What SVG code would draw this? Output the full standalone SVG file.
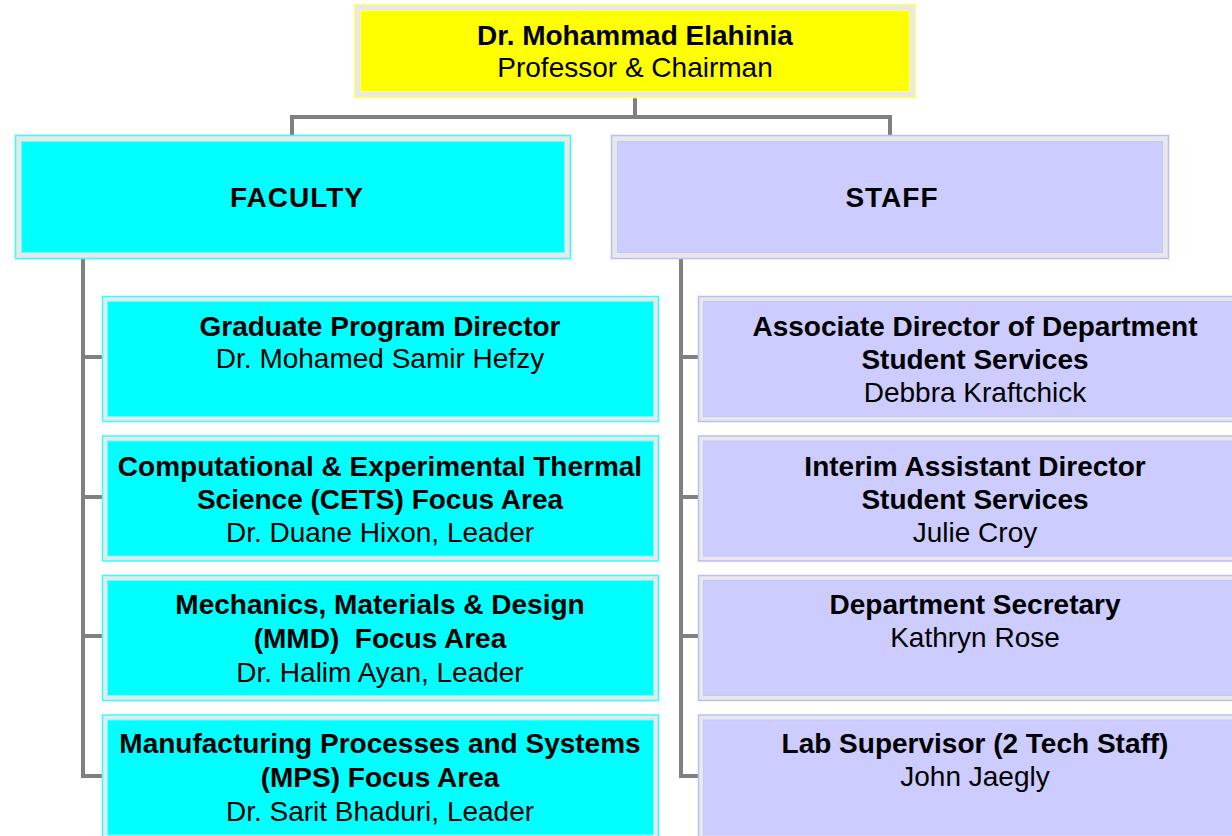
<svg xmlns="http://www.w3.org/2000/svg" width="1232" height="836" viewBox="0 0 1232 836">
  <style>
    text { font-family: "Liberation Sans", Arial, sans-serif; font-size: 28px; fill: #000; text-anchor: middle; }
    .b { font-weight: bold; }
    .head { font-weight: bold; letter-spacing: 1px; }
    .frame { fill: #e8e8e8; stroke-width: 1.5; }
    .y .frame { stroke: #ffff66; }
    .y .fill { fill: #ffff00; stroke: #ffff80; stroke-width: 1; }
    .c .frame { stroke: #33ffff; }
    .c .fill { fill: #00ffff; stroke: #66ffff; stroke-width: 1; }
    .l .frame { stroke: #bbbbff; }
    .l .fill { fill: #ccccff; stroke: #c4c4ff; stroke-width: 1; }
    .conn { fill: none; stroke: #808080; stroke-width: 4; stroke-linejoin: miter; stroke-linecap: square; }
  </style>

  <!-- connectors -->
  <g id="connectors" class="conn">
    <path d="M635,99 V117 M292,133 V117 H890 V133"/>
    <path d="M83,261 V776 H101 M83,357 H101 M83,497 H101 M83,636 H101"/>
    <path d="M681,261 V776 H697 M681,357 H697 M681,497 H697 M681,636 H697"/>
  </g>

  <!-- chairman -->
  <g id="chair" class="y">
    <rect class="frame" x="354.5" y="4.5" width="561" height="93"/>
    <rect class="fill" x="360.5" y="10.5" width="549" height="81"/>
    <text x="635" y="45" class="b">Dr. Mohammad Elahinia</text>
    <text x="635" y="77">Professor &amp; Chairman</text>
  </g>

  <!-- group heads -->
  <g id="faculty" class="c">
    <rect class="frame" x="15.5" y="135.5" width="555" height="123"/>
    <rect class="fill" x="21.5" y="141.5" width="543" height="111"/>
    <text x="297" y="207" class="head">FACULTY</text>
  </g>
  <g id="staff" class="l">
    <rect class="frame" x="611.5" y="135.5" width="557" height="123"/>
    <rect class="fill" x="617.5" y="141.5" width="545" height="111"/>
    <text x="892" y="207" class="head">STAFF</text>
  </g>

  <!-- faculty members -->
  <g id="grad-director" class="c">
    <rect class="frame" x="102.5" y="296.5" width="556" height="125"/>
    <rect class="fill" x="107.5" y="301.5" width="546" height="115"/>
    <text x="380" y="336" class="b">Graduate Program Director</text>
    <text x="380" y="368">Dr. Mohamed Samir Hefzy</text>
  </g>
  <g id="cets" class="c">
    <rect class="frame" x="102.5" y="436" width="556" height="125"/>
    <rect class="fill" x="107.5" y="441" width="546" height="115"/>
    <text x="380" y="476" class="b">Computational &amp; Experimental Thermal</text>
    <text x="380" y="509" class="b">Science (CETS) Focus Area</text>
    <text x="380" y="542">Dr. Duane Hixon, Leader</text>
  </g>
  <g id="mmd" class="c">
    <rect class="frame" x="102.5" y="575.5" width="556" height="125"/>
    <rect class="fill" x="107.5" y="580.5" width="546" height="115"/>
    <text x="380" y="614" class="b">Mechanics, Materials &amp; Design</text>
    <text x="380" y="648" class="b" xml:space="preserve">(MMD)  Focus Area</text>
    <text x="380" y="682">Dr. Halim Ayan, Leader</text>
  </g>
  <g id="mps" class="c">
    <rect class="frame" x="102.5" y="715" width="556" height="125"/>
    <rect class="fill" x="107.5" y="720" width="546" height="115"/>
    <text x="380" y="753" class="b">Manufacturing Processes and Systems</text>
    <text x="380" y="787" class="b">(MPS) Focus Area</text>
    <text x="380" y="821">Dr. Sarit Bhaduri, Leader</text>
  </g>

  <!-- staff members -->
  <g id="assoc-director" class="l">
    <rect class="frame" x="698.5" y="296.5" width="556" height="125"/>
    <rect class="fill" x="703.5" y="301.5" width="546" height="115"/>
    <text x="975" y="336" class="b">Associate Director of Department</text>
    <text x="975" y="369" class="b">Student Services</text>
    <text x="975" y="402">Debbra Kraftchick</text>
  </g>
  <g id="asst-director" class="l">
    <rect class="frame" x="698.5" y="436" width="556" height="125"/>
    <rect class="fill" x="703.5" y="441" width="546" height="115"/>
    <text x="975" y="476" class="b">Interim Assistant Director</text>
    <text x="975" y="509" class="b">Student Services</text>
    <text x="975" y="542">Julie Croy</text>
  </g>
  <g id="secretary" class="l">
    <rect class="frame" x="698.5" y="575.5" width="556" height="125"/>
    <rect class="fill" x="703.5" y="580.5" width="546" height="115"/>
    <text x="975" y="614" class="b">Department Secretary</text>
    <text x="975" y="647">Kathryn Rose</text>
  </g>
  <g id="lab-supervisor" class="l">
    <rect class="frame" x="698.5" y="715" width="556" height="125"/>
    <rect class="fill" x="703.5" y="720" width="546" height="115"/>
    <text x="975" y="753" class="b">Lab Supervisor (2 Tech Staff)</text>
    <text x="975" y="786">John Jaegly</text>
  </g>
</svg>
